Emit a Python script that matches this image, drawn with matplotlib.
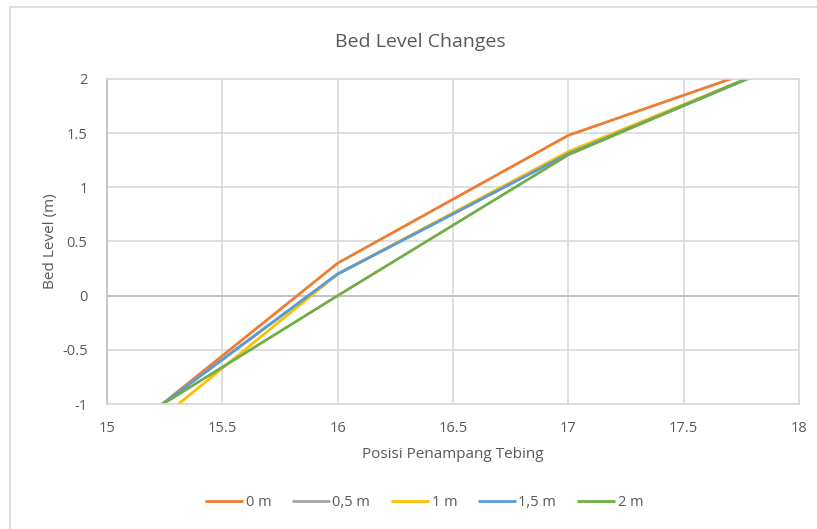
#! /usr/bin/env python3
import matplotlib
matplotlib.use('Agg')
import matplotlib.pyplot as plt
from matplotlib.patches import Rectangle

# posisi penampang (m) dan elevasi dasar untuk tiap jarak
posisi = [15, 16, 17, 18]
series_names = ['0 m', '0,5 m', '1 m', '1,5 m', '2 m']
bed_0 = [-1.41, 0.30, 1.48, 2.22]
bed_05 = [-1.38, 0.20, 1.31, 2.20]
bed_1 = [-1.54, 0.20, 1.33, 2.20]
bed_15 = [-1.38, 0.20, 1.31, 2.20]
bed_2 = [-1.32, 0.00, 1.30, 2.21]
colors = ['#ed7d31', '#a5a5a5', '#ffc000', '#5b9bd5', '#70ad47']

x_ticks = [15, 15.5, 16, 16.5, 17, 17.5, 18]
y_ticks = [-1, -0.5, 0, 0.5, 1, 1.5, 2]

plt.rcParams['font.family'] = ['Open Sans', 'DejaVu Sans']
txt = '#595959'

fig = plt.figure(figsize=(8.17, 5.29), dpi=100)
fig.patches.append(Rectangle((10 / 817, -0.01), 1.0, 1 - 7 / 529 + 0.01,
                             transform=fig.transFigure, fill=False,
                             edgecolor='#d9d9d9', linewidth=1.2))

ax = fig.add_axes([107 / 817, 1 - 404 / 529, (799 - 107) / 817, (404 - 79) / 529])

for name, vals, c in zip(series_names, [bed_0, bed_05, bed_1, bed_15, bed_2], colors):
    ax.plot(posisi, vals, color=c, linewidth=2.0, label=name, solid_capstyle='butt')

ax.set_xlim(15, 18)
ax.set_ylim(-1, 2)
ax.set_xticks(x_ticks)
ax.set_yticks(y_ticks)
ax.set_xticklabels(['15', '15.5', '16', '16.5', '17', '17.5', '18'])
ax.set_yticklabels(['-1', '-0.5', '0', '0.5', '1', '1.5', '2'])
ax.grid(True, color='#d9d9d9', linewidth=1.2)
ax.set_axisbelow(True)
ax.axhline(0, color='#bfbfbf', linewidth=1.3, zorder=1)
for s in ['top', 'right', 'bottom']:
    ax.spines[s].set_color('#d9d9d9')
    ax.spines[s].set_linewidth(1.2)
ax.spines['left'].set_color('#bfbfbf')
ax.spines['left'].set_linewidth(1.2)
ax.tick_params(length=0, labelsize=10.5, colors=txt, pad=12)
ax.tick_params(axis='y', pad=14)

ax.set_xlabel('Posisi Penampang Tebing', fontsize=11, color=txt, labelpad=8)
ax.set_ylabel('Bed Level (m)', fontsize=11, color=txt, labelpad=3)
fig.text(420 / 817, 1 - 42 / 529, 'Bed Level Changes', ha='center', va='center',
         fontsize=14, color=txt)

leg = fig.legend(loc='center', bbox_to_anchor=(424 / 817, 1 - 503 / 529), ncol=5,
                 frameon=False, fontsize=10.5, handlelength=2.6, handletextpad=0.2,
                 columnspacing=1.4)
for t in leg.get_texts():
    t.set_color(txt)

fig.savefig('out.png', dpi=100)
